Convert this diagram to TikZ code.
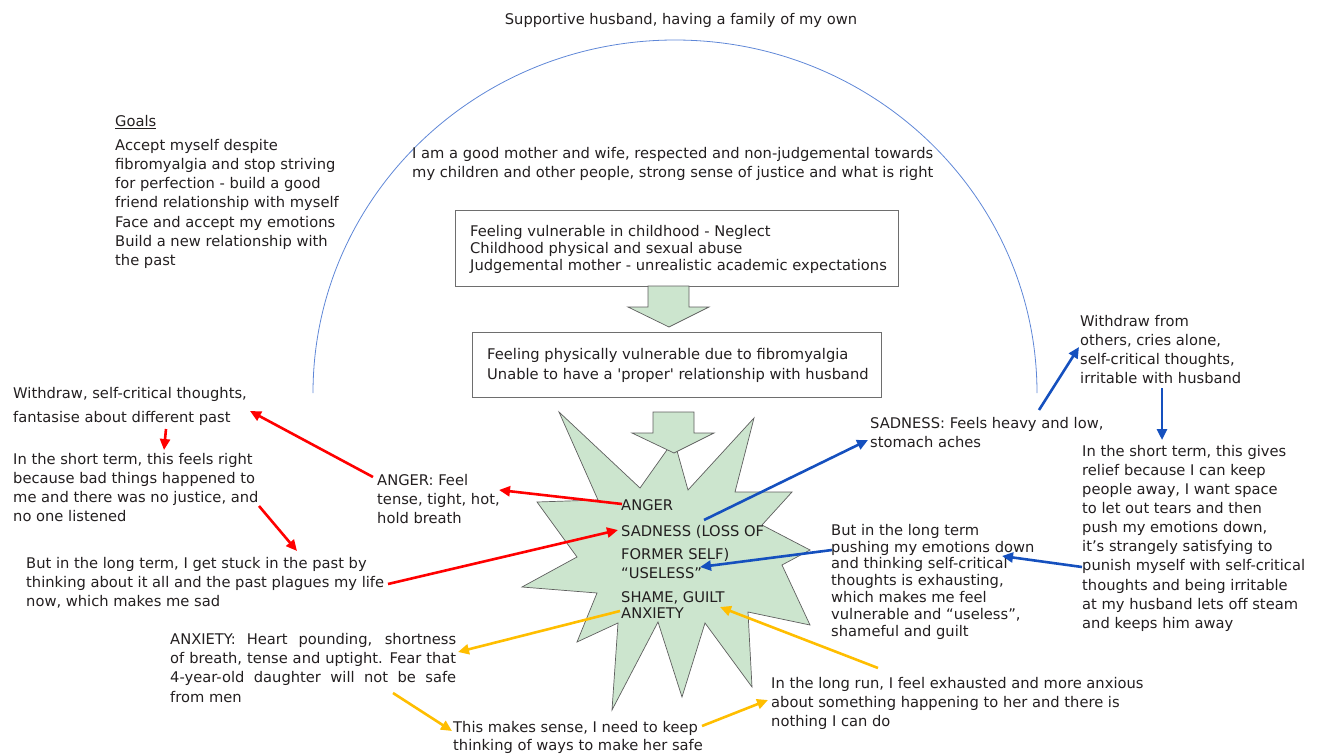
\documentclass[tikz,border=0pt]{standalone}
\usepackage{fontspec}
\setmainfont{DejaVu Sans}
\usetikzlibrary{arrows.meta}
\definecolor{textc}{RGB}{35,31,32}
\definecolor{starfillc}{RGB}{204,229,206}
\definecolor{edgec}{RGB}{95,95,95}
\definecolor{boxc}{RGB}{110,110,110}
\definecolor{arcc}{RGB}{95,135,215}
\definecolor{redc}{RGB}{255,0,0}
\definecolor{bluec}{RGB}{21,80,190}
\definecolor{yelc}{RGB}{255,190,0}
\newcommand\fsz[1]{\fontsize{14.7}{#1}\selectfont}
\newcommand\jline[1]{\makebox[286pt][s]{#1}}
\tikzset{
  txt/.style={inner sep=0pt, anchor=north west, align=left, text=textc},
  boxnode/.style={draw=boxc, line width=1pt, inner sep=0pt, anchor=north west},
  blockarrow/.style={draw=edgec, fill=starfillc, line width=0.7pt, line join=miter},
  conn/.style={line width=2.6pt, -{Triangle[length=11pt,width=10pt]}},
  redarrow/.style={conn, draw=redc},
  bluearrow/.style={conn, draw=bluec},
  yelarrow/.style={conn, draw=yelc},
}
\begin{document}
\begin{tikzpicture}[x=1pt,y=-1pt]
\useasboundingbox (0,0) rectangle (1318,755);

% big arc
\draw[arcc, line width=0.8pt] (313,393) arc[start angle=180, end angle=360, x radius=362, y radius=353];

% top text
\node[inner sep=0pt, text=textc, font=\fsz{18}] (family) at (681,20) {Supportive husband, having a family of my own};

% goals
\node[txt, font=\fsz{18}] (goalsT) at (115,115) {\underline{Goals}};
\node[txt, font=\fsz{19.2}] (goals) at (115,139) {Accept myself despite\\fibromyalgia and stop striving\\for perfection - build a good\\friend relationship with myself\\Face and accept my emotions\\Build a new relationship with\\the past};

% values
\node[txt, font=\fsz{19}] (values) at (412,147) {I am a good mother and wife, respected and non-judgemental towards\\my children and other people, strong sense of justice and what is right};

% boxes
\node[boxnode, minimum width=443pt, minimum height=76pt] (box1) at (455,210) {};
\node[txt, font=\fsz{17}] (box1t) at (470,225) {Feeling vulnerable in childhood - Neglect\\Childhood physical and sexual abuse\\Judgemental mother - unrealistic academic expectations};
\node[boxnode, minimum width=409pt, minimum height=65pt] (box2) at (472,332) {};
\node[txt, font=\fsz{20}] (box2t) at (487,348) {Feeling physically vulnerable due to fibromyalgia\\Unable to have a \textquotesingle proper\textquotesingle\ relationship with husband};

% block arrow between boxes
\draw[blockarrow] (648,286) -- (689,286) -- (689,307) -- (709,307) -- (669,327) -- (628,307) -- (648,307) -- cycle;

% star
\draw[blockarrow] (559,412) -- (640,488) -- (674,440) -- (688,490) -- (754,418) -- (735,492) -- (792,492) -- (762,525) -- (810,550) -- (782,565) -- (810,625) -- (748,612) -- (752,687) -- (705,623) -- (682,697) -- (658,622) -- (612,710) -- (618,623) -- (577,642) -- (597,593) -- (522,587) -- (577,557) -- (537,502) -- (598,500) -- cycle;

% block arrow into star
\draw[blockarrow] (653,412) -- (694,412) -- (694,433) -- (714,433) -- (674,453) -- (632,433) -- (653,433) -- cycle;

% star texts
\node[txt, font=\fsz{18}] (sAnger) at (621,499) {ANGER};
\node[txt, font=\fsz{23}] (sSad) at (621,525) {SADNESS (LOSS OF\\FORMER SELF)};
\node[txt, font=\fsz{18}] (sUse) at (621,567) {“USELESS”};
\node[txt, font=\fsz{16}] (sShame) at (621,591) {SHAME, GUILT\\ANXIETY};

% left (anger) chain
\node[txt, font=\fsz{24}] (lWith) at (13,387) {Withdraw, self-critical thoughts,\\fantasise about different past};
\node[txt, font=\fsz{19}] (lShort) at (13,453) {In the short term, this feels right\\because bad things happened to\\me and there was no justice, and\\no one listened};
\node[txt, font=\fsz{19}] (lLong) at (26,557) {But in the long term, I get stuck in the past by\\thinking about it all and the past plagues my life\\now, which makes me sad};
\node[txt, font=\fsz{19}] (angerFeel) at (377,474) {ANGER: Feel\\tense, tight, hot,\\hold breath};

% right (sadness) chain
\node[txt, font=\fsz{19}] (sadFeel) at (870,417) {SADNESS: Feels heavy and low,\\stomach aches};
\node[txt, font=\fsz{19}] (rWith) at (1080,315) {Withdraw from\\others, cries alone,\\self-critical thoughts,\\irritable with husband};
\node[txt, font=\fsz{19.1}] (rShort) at (1082,445) {In the short term, this gives\\relief because I can keep\\people away, I want space\\to let out tears and then\\push my emotions down,\\it’s strangely satisfying to\\punish myself with self-critical\\thoughts and being irritable\\at my husband lets off steam\\and keeps him away};
\node[txt, font=\fsz{16.8}] (rLong) at (831,524) {But in the long term\\pushing my emotions down\\and thinking self-critical\\thoughts is exhausting,\\which makes me feel\\vulnerable and “useless”,\\shameful and guilt};

% anxiety chain
\node[txt, font=\fsz{19.3}] (anxFeel) at (170,633) {\jline{ANXIETY: Heart pounding, shortness}\\\jline{of breath, tense and uptight. Fear that}\\\jline{4-year-old daughter will not be safe}\\from men};
\node[txt, font=\fsz{18}] (aSense) at (453,721) {This makes sense, I need to keep\\thinking of ways to make her safe};
\node[txt, font=\fsz{19}] (aLong) at (771,677) {In the long run, I feel exhausted and more anxious\\about something happening to her and there is\\nothing I can do};

% connector end points
\coordinate (r1a) at (373,477); \coordinate (r1b) at (250,411);
\coordinate (r2a) at (166,429); \coordinate (r2b) at (164,450);
\coordinate (r3a) at (259,506); \coordinate (r3b) at (297,551);
\coordinate (r4a) at (388,584); \coordinate (r4b) at (618,530);
\coordinate (r5a) at (622,504); \coordinate (r5b) at (499,490);
\coordinate (b1a) at (704,520); \coordinate (b1b) at (868,440);
\coordinate (b2a) at (1039,410); \coordinate (b2b) at (1079,347);
\coordinate (b3a) at (1162,388); \coordinate (b3b) at (1162,440);
\coordinate (b4a) at (1082,567); \coordinate (b4b) at (1002,556);
\coordinate (b5a) at (832,550); \coordinate (b5b) at (700,567);
\coordinate (y1a) at (620,611); \coordinate (y1b) at (458,652);
\coordinate (y2a) at (393,693); \coordinate (y2b) at (452,731);
\coordinate (y3a) at (702,726); \coordinate (y3b) at (768,700);
\coordinate (y4a) at (878,668); \coordinate (y4b) at (720,607);

\draw[redarrow] (r1a) -- (r1b);
\draw[redarrow] (r2a) -- (r2b);
\draw[redarrow] (r3a) -- (r3b);
\draw[redarrow] (r4a) -- (r4b);
\draw[redarrow] (r5a) -- (r5b);
\draw[bluearrow] (b1a) -- (b1b);
\draw[bluearrow] (b2a) -- (b2b);
\draw[bluearrow] (b3a) -- (b3b);
\draw[bluearrow] (b4a) -- (b4b);
\draw[bluearrow] (b5a) -- (b5b);
\draw[yelarrow] (y1a) -- (y1b);
\draw[yelarrow] (y2a) -- (y2b);
\draw[yelarrow] (y3a) -- (y3b);
\draw[yelarrow] (y4a) -- (y4b);
\end{tikzpicture}
\end{document}
